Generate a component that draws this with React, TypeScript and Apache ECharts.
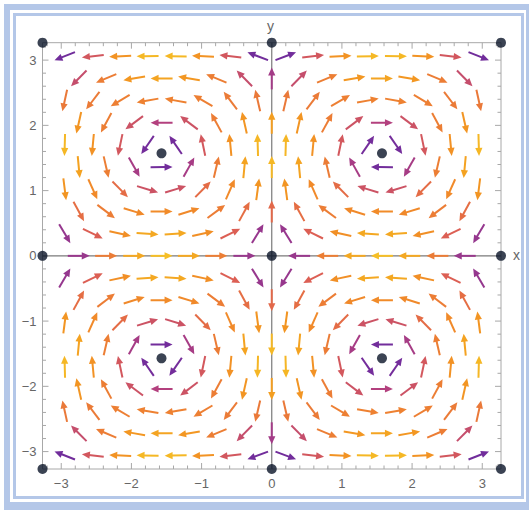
import React, { useEffect, useRef } from "react";
import * as echarts from "echarts";

// Plot range (frame edges)
const R = 3.267;

// Hexagonal lattice of arrow positions
const evenRowsY = [-2.72, -2.04, -1.36, -0.68, 0, 0.68, 1.36, 2.04, 2.72];
const oddRowsY = [-3.06, -2.38, -1.7, -1.02, -0.34, 0.34, 1.02, 1.7, 2.38, 3.06];
const evenRowX = [-2.75, -2.36, -1.96, -1.57, -1.18, -0.79, -0.39, 0, 0.39, 0.79, 1.18, 1.57, 1.96, 2.36, 2.75];
const oddRowX = [-2.95, -2.55, -2.16, -1.77, -1.37, -0.98, -0.59, -0.2, 0.2, 0.59, 0.98, 1.37, 1.77, 2.16, 2.55, 2.95];

// Frame ticks
const majorTicks = [-3, -2, -1, 0, 1, 2, 3];
const minorTicks = [
  -3.2, -2.8, -2.6, -2.4, -2.2, -1.8, -1.6, -1.4, -1.2, -0.8, -0.6, -0.4, -0.2,
  0.2, 0.4, 0.6, 0.8, 1.2, 1.4, 1.6, 1.8, 2.2, 2.4, 2.6, 2.8, 3.2,
];

// Marked points (black dots)
const pointX = [0, -1.571, 1.571, -1.571, 1.571, -R, 0, R, -R, R, -R, 0, R];
const pointY = [0, 1.571, 1.571, -1.571, -1.571, R, R, R, 0, 0, -R, -R, -R];

// The plotted vector field {-sin x cos y, cos x sin y}
const fieldX = (x: number, y: number) => -Math.sin(x) * Math.cos(y);
const fieldY = (x: number, y: number) => Math.cos(x) * Math.sin(y);

// Colour scale by vector magnitude
const colorStops: [number, string][] = [
  [0.0, "#5e2a98"],
  [0.3, "#7a2e9c"],
  [0.45, "#b2407f"],
  [0.6, "#de6052"],
  [0.74, "#f0862c"],
  [0.88, "#f39a20"],
  [1.0, "#f6bf26"],
];

function hexToRgb(h: string) {
  const n = parseInt(h.slice(1), 16);
  return [(n >> 16) & 255, (n >> 8) & 255, n & 255];
}
function colorAt(t: number) {
  const v = Math.max(0, Math.min(1, t));
  for (let i = 1; i < colorStops.length; i++) {
    const [p1, c1] = colorStops[i];
    const [p0, c0] = colorStops[i - 1];
    if (v <= p1) {
      const f = (v - p0) / (p1 - p0);
      const a = hexToRgb(c0);
      const b = hexToRgb(c1);
      const c = a.map((q, k) => Math.round(q + (b[k] - q) * f));
      return `rgb(${c[0]},${c[1]},${c[2]})`;
    }
  }
  return colorStops[colorStops.length - 1][1];
}

function fmt(v: number) {
  const r = Math.round(v);
  if (Math.abs(v - r) > 1e-6) return "";
  return r < 0 ? "\u2212" + -r : String(r);
}

export default function App() {
  const ref = useRef<HTMLDivElement>(null);

  useEffect(() => {
    if (!ref.current) return;
    const chart = echarts.init(ref.current, undefined, { renderer: "svg" });

    const raw: number[][] = [];
    evenRowsY.forEach((y) => evenRowX.forEach((x) => raw.push([x, y])));
    oddRowsY.forEach((y) => oddRowX.forEach((x) => raw.push([x, y])));
    const arrows: number[][] = [];
    let maxMag = 0;
    raw.forEach(([x, y]) => {
      const vx = fieldX(x, y);
      const vy = fieldY(x, y);
      const m = Math.hypot(vx, vy);
      if (m < 1e-6) return;
      maxMag = Math.max(maxMag, m);
      arrows.push([x, y, vx, vy, m]);
    });
    arrows.forEach((a) => (a[4] = a[4] / maxMag));

    const tickData = [
      ...majorTicks.map((t) => [t, 1]),
      ...minorTicks.map((t) => [t, 0]),
    ];

    const axisCommon = {
      type: "value" as const,
      min: -R,
      max: R,
      splitNumber: 6,
      axisLine: { show: false },
      axisTick: { show: false },
      splitLine: { show: false },
    };
    const labelStyle = {
      color: "#666666",
      fontSize: 13,
      fontFamily: "Liberation Sans, Arial, sans-serif",
      formatter: fmt,
    };

    chart.setOption({
      animation: false,
      backgroundColor: "transparent",
      grid: {
        left: 42.5,
        right: 28,
        top: 42.7,
        bottom: 41,
        show: true,
        borderColor: "#a8a8a8",
        borderWidth: 1,
        backgroundColor: "transparent",
      },
      xAxis: { ...axisCommon, axisLabel: { ...labelStyle, margin: 8 } },
      yAxis: { ...axisCommon, axisLabel: { ...labelStyle, margin: 6 } },
      graphic: [
        {
          type: "text",
          left: 513,
          top: 248,
          style: { text: "x", fill: "#666666", font: "14px Liberation Sans, Arial, sans-serif" },
        },
        {
          type: "text",
          left: 267,
          top: 19,
          style: { text: "y", fill: "#666666", font: "14px Liberation Sans, Arial, sans-serif" },
        },
      ],
      series: [
        {
          type: "line",
          data: [[-R, 0], [R, 0]],
          symbol: "none",
          lineStyle: { color: "#7a7a7a", width: 1.2 },
          z: 1,
          silent: true,
        },
        {
          type: "line",
          data: [[0, -R], [0, R]],
          symbol: "none",
          lineStyle: { color: "#7a7a7a", width: 1.2 },
          z: 1,
          silent: true,
        },
        {
          type: "custom",
          data: tickData,
          z: 2,
          silent: true,
          renderItem: (params: any, api: any) => {
            const t = api.value(0);
            const len = api.value(1) ? 6 : 3.5;
            const b = api.coord([t, -R]);
            const tp = api.coord([t, R]);
            const l = api.coord([-R, t]);
            const r = api.coord([R, t]);
            const st = { stroke: "#a8a8a8", lineWidth: 1 };
            return {
              type: "group",
              children: [
                { type: "line", shape: { x1: b[0], y1: b[1], x2: b[0], y2: b[1] - len }, style: st },
                { type: "line", shape: { x1: tp[0], y1: tp[1], x2: tp[0], y2: tp[1] + len }, style: st },
                { type: "line", shape: { x1: l[0], y1: l[1], x2: l[0] + len, y2: l[1] }, style: st },
                { type: "line", shape: { x1: r[0], y1: r[1], x2: r[0] - len, y2: r[1] }, style: st },
              ],
            };
          },
        },
        {
          type: "custom",
          data: arrows,
          z: 3,
          silent: true,
          renderItem: (params: any, api: any) => {
            const x = api.value(0);
            const y = api.value(1);
            const vx = api.value(2);
            const vy = api.value(3);
            const m = api.value(4);
            const c = api.coord([x, y]);
            const s = api.size([1, 1]);
            let dx = vx * s[0];
            let dy = -vy * s[1];
            const n = Math.hypot(dx, dy) || 1;
            dx /= n;
            dy /= n;
            const L = 22;
            const hl = 8;
            const hw = 3.6;
            const tail = [c[0] - (dx * L) / 2, c[1] - (dy * L) / 2];
            const tip = [c[0] + (dx * L) / 2, c[1] + (dy * L) / 2];
            const base = [tip[0] - dx * hl, tip[1] - dy * hl];
            const px = -dy;
            const py = dx;
            const color = colorAt(m);
            return {
              type: "group",
              children: [
                {
                  type: "line",
                  shape: { x1: tail[0], y1: tail[1], x2: base[0] + dx, y2: base[1] + dy },
                  style: { stroke: color, lineWidth: 2 },
                },
                {
                  type: "polygon",
                  shape: {
                    points: [
                      tip,
                      [base[0] + px * hw, base[1] + py * hw],
                      [base[0] - px * hw, base[1] - py * hw],
                    ],
                  },
                  style: { fill: color },
                },
              ],
            };
          },
        },
        {
          type: "scatter",
          data: pointX.map((x, i) => [x, pointY[i]]),
          symbolSize: 10,
          itemStyle: { color: "#0a1428" },
          clip: false,
          z: 5,
          silent: true,
        },
      ],
    });

    return () => chart.dispose();
  }, []);

  const box = (l: number, t: number, w: number, h: number, bg: string): React.CSSProperties => ({
    position: "absolute",
    left: l,
    top: t,
    width: w,
    height: h,
    background: bg,
  });

  return (
    <div style={{ position: "absolute", left: 0, top: 0, width: 529, height: 510, background: "#ffffff", overflow: "hidden" }}>
      <div style={box(4, 4, 525, 506, "#b4c7e8")} />
      <div style={box(10, 10, 516, 492, "#ffffff")} />
      <div style={box(13, 13, 511, 486, "#b4c7e8")} />
      <div style={box(16, 16, 505, 480, "#ffffff")} />
      <div ref={ref} style={{ position: "absolute", left: 0, top: 0, width: 529, height: 510 }} />
    </div>
  );
}
